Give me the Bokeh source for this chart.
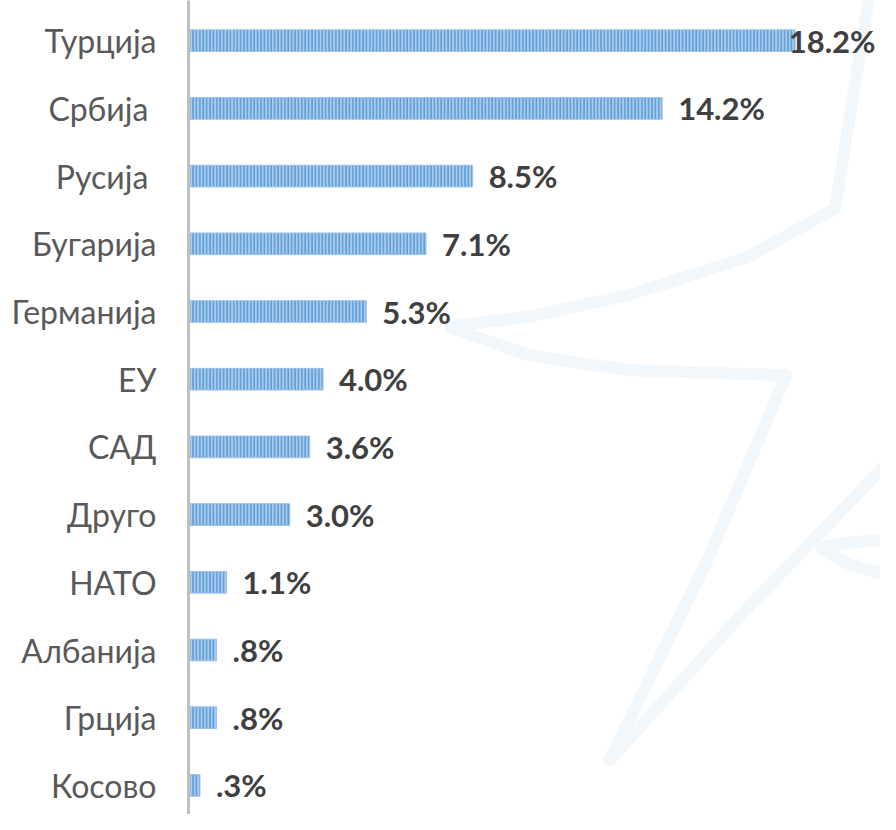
from bokeh.plotting import figure
from bokeh.models import ColumnDataSource, Range1d, FixedTicker
from bokeh.core.properties import value
from bokeh.embed import file_html
from bokeh.resources import INLINE

# ---- data ----
categories = ["Турција", "Србија ", "Русија ", "Бугарија", "Германија", "ЕУ",
              "САД", "Друго", "НАТО", "Албанија", "Грција", "Косово"]
shares = [18.2, 14.2, 8.5, 7.1, 5.3, 4.0, 3.6, 3.0, 1.1, 0.8, 0.8, 0.3]
value_labels = ["18.2%", "14.2%", "8.5%", "7.1%", "5.3%", "4.0%", "3.6%",
                "3.0%", "1.1%", ".8%", ".8%", ".3%"]

n = len(categories)
ypos = [n - 1 - i for i in range(n)]

PX_PER_X = 33.25
X0_PX = 189.5
LEFT = 188
W, H = 880, 814
X_START = (LEFT - X0_PX) / PX_PER_X
X_END = (W - X0_PX) / PX_PER_X
ROW = 67.7
TOP_C = 40.2
Y_END = (n - 1) + TOP_C / ROW
Y_START = -(H - (TOP_C + (n - 1) * ROW)) / ROW

# label placement: outside the bar unless it would run past the frame
label_x, label_align, label_off = [], [], []
for v, t in zip(shares, value_labels):
    est_w = len(t) * 0.5  # rough width in data units
    if v + 0.45 + est_w > X_END:
        label_x.append(X_END)
        label_align.append("right")
        label_off.append(-5)
    else:
        label_x.append(v)
        label_align.append("left")
        label_off.append(16)

src = ColumnDataSource(dict(y=ypos, v=shares, lab=value_labels,
                            lx=label_x, la=label_align, lo=label_off))

p = figure(width=W, height=H, output_backend="svg", toolbar_location=None,
           x_range=Range1d(X_START, X_END), y_range=Range1d(Y_START, Y_END),
           min_border_left=LEFT, min_border_right=0, min_border_top=0,
           min_border_bottom=0)
p.outline_line_color = None
p.grid.visible = False
p.xaxis.visible = False
p.background_fill_color = "white"
p.border_fill_color = "white"

# faint decorative star watermark (sketch in picture pixels converted to data units)
def sx(px):
    return (px * 0.982 - X0_PX) / PX_PER_X
def sy(py):
    return (n - 1) - (py * 0.981 - TOP_C) / ROW

star_paths = [
    [(884, 0), (866, 110), (850, 212)],
    [(850, 212), (760, 262), (640, 300), (540, 322), (458, 332)],
    [(458, 334), (540, 362), (640, 377), (800, 382)],
    [(800, 382), (720, 570), (620, 775)],
    [(620, 775), (760, 620), (900, 475)],
    [(837, 557), (870, 552), (900, 550)],
    [(837, 560), (865, 575), (900, 585)],
]
for path in star_paths:
    p.line([sx(a) for a, b in path], [sy(b) for a, b in path],
           line_color="#f2f7fc", line_width=12, line_cap="round",
           line_join="round", level="underlay")

p.hbar(y="y", right="v", left=0, height=0.32, source=src,
       fill_color="#a9cbec", line_color="#9dc3e6", line_width=1,
       hatch_pattern="vertical_line", hatch_color="#5b9bd5",
       hatch_scale=3.4, hatch_weight=1.6)

p.text(x="lx", y="y", text="lab", source=src, x_offset="lo",
       text_align="la", text_baseline="middle",
       text_font=value("Lato"), text_font_style="bold",
       text_font_size="31px", text_color="#404040")

ax = p.yaxis[0]
ax.ticker = FixedTicker(ticks=ypos)
ax.major_label_overrides = {y: c for y, c in zip(ypos, categories)}
ax.major_tick_line_color = None
ax.minor_tick_line_color = None
ax.major_tick_out = 0
ax.major_tick_in = 0
ax.axis_line_color = "#bfbfbf"
ax.axis_line_width = 3
ax.major_label_standoff = 32
ax.major_label_text_font = "Lato"
ax.major_label_text_font_size = "32px"
ax.major_label_text_color = "#595959"

open("out.html", "w").write(file_html(p, INLINE))
